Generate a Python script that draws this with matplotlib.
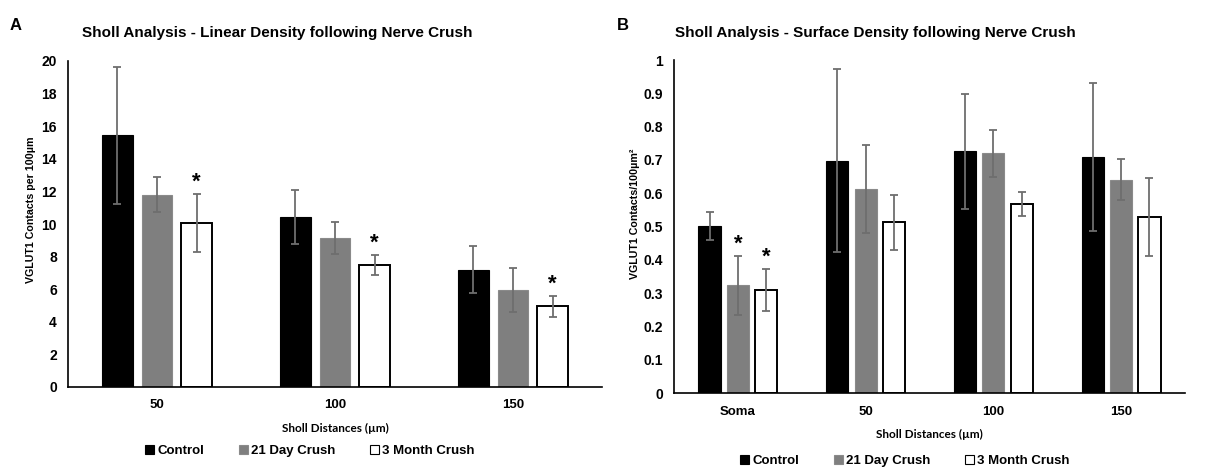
import matplotlib
matplotlib.use("Agg")
import matplotlib.pyplot as plt
import numpy as np
from matplotlib.patches import Patch

plt.rcParams['font.family'] = ['Liberation Sans', 'DejaVu Sans']

# ---- data ----
series = ["Control", "21 Day Crush", "3 Month Crush"]

lin_cats = ["50", "100", "150"]
lin_control = [15.45, 10.43, 7.2]
lin_21d = [11.8, 9.16, 5.97]
lin_3mo = [10.06, 7.5, 4.95]
lin_control_err = [4.2, 1.65, 1.45]
lin_21d_err = [1.07, 0.98, 1.35]
lin_3mo_err = [1.78, 0.6, 0.65]
lin_sig_21d = [False, False, False]
lin_sig_3mo = [True, True, True]

surf_cats = ["Soma", "50", "100", "150"]
surf_control = [0.502, 0.698, 0.726, 0.709]
surf_21d = [0.324, 0.613, 0.72, 0.641]
surf_3mo = [0.31, 0.513, 0.568, 0.529]
surf_control_err = [0.041, 0.274, 0.172, 0.223]
surf_21d_err = [0.088, 0.133, 0.071, 0.062]
surf_3mo_err = [0.063, 0.082, 0.036, 0.116]
surf_sig_21d = [True, False, False, False]
surf_sig_3mo = [True, False, False, False]

lin_yticks = [0, 2, 4, 6, 8, 10, 12, 14, 16, 18, 20]
surf_yticks = [0, 0.1, 0.2, 0.3, 0.4, 0.5, 0.6, 0.7, 0.8, 0.9, 1]
surf_ytick_labels = ["0", "0.1", "0.2", "0.3", "0.4", "0.5", "0.6", "0.7", "0.8", "0.9", "1"]

# ---- styles ----
faces = ["#000000", "#7f7f7f", "#ffffff"]
edges = ["#000000", "#8a8a8a", "#000000"]
ecol = "#6e6e6e"
W = 0.174
OFF = 0.222

fig = plt.figure(figsize=(12.14, 4.67), dpi=100)
axL = fig.add_axes([68/1214, 1-387/467, 534/1214, 326/467])
axR = fig.add_axes([674/1214, 1-393.3/467, 511/1214, 333.3/467])


def draw(ax, cats, vals, errs, sigs, ymax, yticks, ylabels, ylab, ylab_pos):
    x = np.arange(len(cats))
    for i, (v, e, s) in enumerate(zip(vals, errs, sigs)):
        xi = x + (i - 1) * OFF
        ax.bar(xi, v, width=W, color=faces[i], edgecolor=edges[i],
               linewidth=1.4 if i == 2 else 0.8, zorder=2)
        ax.errorbar(xi, v, yerr=e, fmt='none', ecolor=ecol, elinewidth=1.3,
                    capsize=3, capthick=1.3, zorder=3)
        for xx, vv, ee, ss in zip(xi, v, e, s):
            if ss:
                ax.annotate("*", (xx, vv + ee), xytext=(0, 1), textcoords="offset points",
                            ha="center", va="bottom", fontsize=16, fontweight="bold")
    ax.set_xlim(-0.5, len(cats) - 0.5)
    ax.set_ylim(0, ymax)
    ax.set_xticks(x)
    ax.set_xticklabels(cats, fontsize=9.5, fontweight="bold")
    ax.set_yticks(yticks)
    ax.set_yticklabels(ylabels, fontsize=10, fontweight="bold")
    ax.tick_params(length=0, pad=8)
    ax.tick_params(axis='x', pad=9)
    for sp in ["top", "right"]:
        ax.spines[sp].set_visible(False)
    for sp in ["left", "bottom"]:
        ax.spines[sp].set_linewidth(1.2)
    ax.set_ylabel(ylab, fontsize=7.7, fontweight="bold")
    ax.yaxis.set_label_coords(*ylab_pos)
    ax.set_xlabel("Sholl Distances (µm)", fontsize=8.5, fontweight="bold",
                  family=["Lato", "DejaVu Sans"], labelpad=8)


draw(axL, lin_cats, [lin_control, lin_21d, lin_3mo],
     [lin_control_err, lin_21d_err, lin_3mo_err],
     [[False] * 3, lin_sig_21d, lin_sig_3mo], 20, lin_yticks,
     [str(t) for t in lin_yticks], "VGLUT1 Contacts per 100µm", (-0.060, 0.543))
draw(axR, surf_cats, [surf_control, surf_21d, surf_3mo],
     [surf_control_err, surf_21d_err, surf_3mo_err],
     [[False] * 4, surf_sig_21d, surf_sig_3mo], 1, surf_yticks,
     surf_ytick_labels, "VGLUT1 Contacts/100µm²", (-0.066, 0.538))

fig.text(277/1214, 1-33/467, "Sholl Analysis - Linear Density following Nerve Crush",
         ha="center", va="center", fontsize=11, fontweight="bold")
fig.text(875/1214, 1-33/467, "Sholl Analysis - Surface Density following Nerve Crush",
         ha="center", va="center", fontsize=11, fontweight="bold")
fig.text(10/1214, 1-25/467, "A", ha="left", va="center", fontsize=12, fontweight="bold")
fig.text(617/1214, 1-25/467, "B", ha="left", va="center", fontsize=12, fontweight="bold")

handles = [Patch(facecolor=faces[i], edgecolor=edges[i], linewidth=0.8) for i in range(3)]
for cx, cy in [(310, 451), (905, 461)]:
    fig.legend(handles, series, loc="center", bbox_to_anchor=(cx/1214, 1-cy/467),
               ncol=3, frameon=False, handlelength=0.7, handleheight=0.7,
               handletextpad=0.25, columnspacing=2.6,
               prop={"weight": "bold", "size": 9.5})

fig.savefig("out.png", dpi=100)
